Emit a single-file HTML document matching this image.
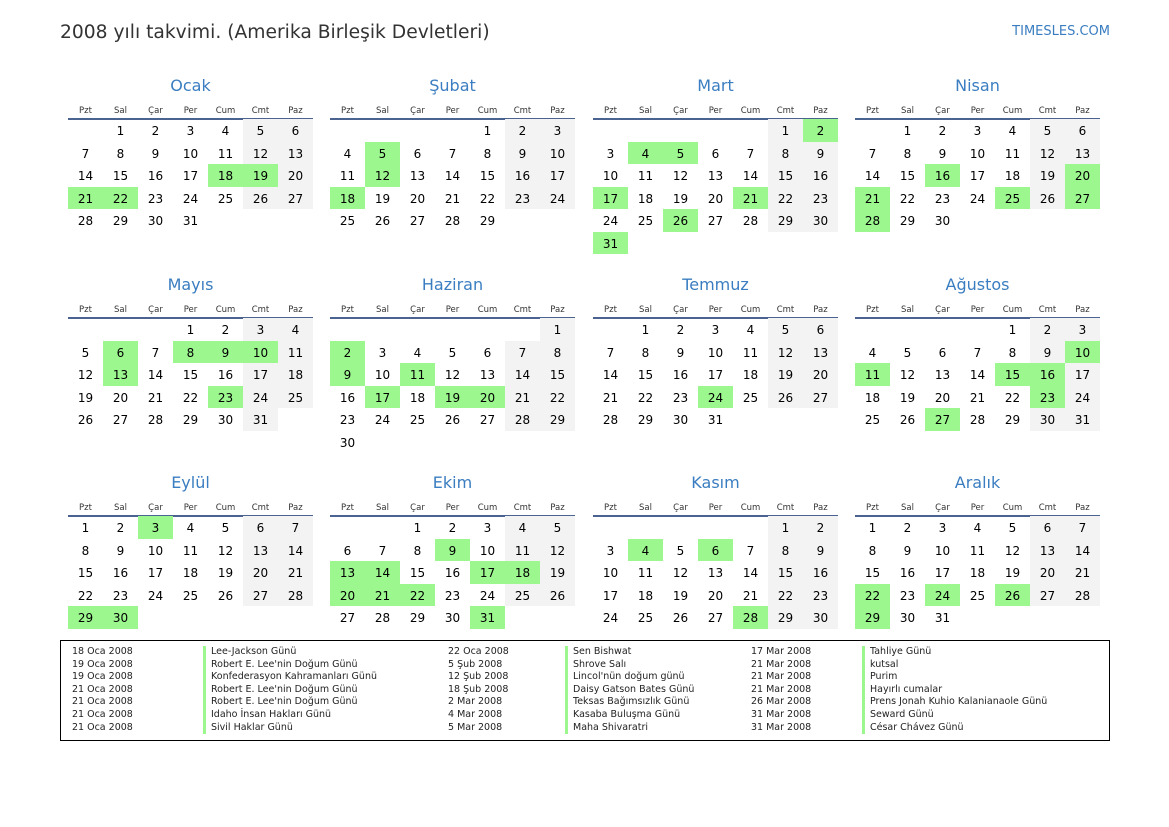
<!DOCTYPE html>
<html><head><meta charset="utf-8">
<style>
*{margin:0;padding:0;box-sizing:border-box}
body{width:1169px;height:827px;background:#fff;font-family:"DejaVu Sans","Liberation Sans",sans-serif;position:relative;overflow:hidden;color:#000}
.ttl{position:absolute;left:60px;top:22px;font-size:18.7px;color:#333}
.site{position:absolute;right:59px;top:24px;font-size:13px;color:#3a7dc0}
.m{position:absolute;width:245px}
.m h2{height:30px;line-height:30px;text-align:center;font-weight:normal;font-size:16px;color:#3a7dc0;position:relative;top:1px}
.hd{display:grid;grid-template-columns:repeat(7,35px);height:20px;line-height:23px;border-bottom:2px solid #4a6390;font-size:8.5px;color:#333;text-align:center}
.g{display:grid;grid-template-columns:repeat(7,35px);grid-auto-rows:22.5px;font-size:12px;text-align:center;line-height:25.5px;margin-top:-1px}
.g i{font-style:normal}
.w{background:#f3f3f3}
.h{background:#9cf78f}
.lg{position:absolute;left:60px;top:640px;width:1050px;height:101px;border:1px solid #000;font-size:9.5px;color:#222}
.c{position:absolute;top:5px;line-height:12.6px;white-space:nowrap}
.c.n div{border-left:3px solid #9cf78f;padding-left:5px}
</style></head><body>
<div class="ttl">2008 yılı takvimi. (Amerika Birleşik Devletleri)</div>
<div class="site">TIMESLES.COM</div>

<div class="m" style="left:68px;top:70px"><h2>Ocak</h2><div class="hd"><span>Pzt</span><span>Sal</span><span>Çar</span><span>Per</span><span>Cum</span><span>Cmt</span><span>Paz</span></div><div class="g">
<i></i><i>1</i><i>2</i><i>3</i><i>4</i><i class="w">5</i><i class="w">6</i>
<i>7</i><i>8</i><i>9</i><i>10</i><i>11</i><i class="w">12</i><i class="w">13</i>
<i>14</i><i>15</i><i>16</i><i>17</i><i class="h">18</i><i class="h">19</i><i class="w">20</i>
<i class="h">21</i><i class="h">22</i><i>23</i><i>24</i><i>25</i><i class="w">26</i><i class="w">27</i>
<i>28</i><i>29</i><i>30</i><i>31</i></div></div>

<div class="m" style="left:330px;top:70px"><h2>Şubat</h2><div class="hd"><span>Pzt</span><span>Sal</span><span>Çar</span><span>Per</span><span>Cum</span><span>Cmt</span><span>Paz</span></div><div class="g">
<i></i><i></i><i></i><i></i><i>1</i><i class="w">2</i><i class="w">3</i>
<i>4</i><i class="h">5</i><i>6</i><i>7</i><i>8</i><i class="w">9</i><i class="w">10</i>
<i>11</i><i class="h">12</i><i>13</i><i>14</i><i>15</i><i class="w">16</i><i class="w">17</i>
<i class="h">18</i><i>19</i><i>20</i><i>21</i><i>22</i><i class="w">23</i><i class="w">24</i>
<i>25</i><i>26</i><i>27</i><i>28</i><i>29</i></div></div>

<div class="m" style="left:593px;top:70px"><h2>Mart</h2><div class="hd"><span>Pzt</span><span>Sal</span><span>Çar</span><span>Per</span><span>Cum</span><span>Cmt</span><span>Paz</span></div><div class="g">
<i></i><i></i><i></i><i></i><i></i><i class="w">1</i><i class="h">2</i>
<i>3</i><i class="h">4</i><i class="h">5</i><i>6</i><i>7</i><i class="w">8</i><i class="w">9</i>
<i>10</i><i>11</i><i>12</i><i>13</i><i>14</i><i class="w">15</i><i class="w">16</i>
<i class="h">17</i><i>18</i><i>19</i><i>20</i><i class="h">21</i><i class="w">22</i><i class="w">23</i>
<i>24</i><i>25</i><i class="h">26</i><i>27</i><i>28</i><i class="w">29</i><i class="w">30</i>
<i class="h">31</i></div></div>

<div class="m" style="left:855px;top:70px"><h2>Nisan</h2><div class="hd"><span>Pzt</span><span>Sal</span><span>Çar</span><span>Per</span><span>Cum</span><span>Cmt</span><span>Paz</span></div><div class="g">
<i></i><i>1</i><i>2</i><i>3</i><i>4</i><i class="w">5</i><i class="w">6</i>
<i>7</i><i>8</i><i>9</i><i>10</i><i>11</i><i class="w">12</i><i class="w">13</i>
<i>14</i><i>15</i><i class="h">16</i><i>17</i><i>18</i><i class="w">19</i><i class="h">20</i>
<i class="h">21</i><i>22</i><i>23</i><i>24</i><i class="h">25</i><i class="w">26</i><i class="h">27</i>
<i class="h">28</i><i>29</i><i>30</i></div></div>

<div class="m" style="left:68px;top:269px"><h2>Mayıs</h2><div class="hd"><span>Pzt</span><span>Sal</span><span>Çar</span><span>Per</span><span>Cum</span><span>Cmt</span><span>Paz</span></div><div class="g">
<i></i><i></i><i></i><i>1</i><i>2</i><i class="w">3</i><i class="w">4</i>
<i>5</i><i class="h">6</i><i>7</i><i class="h">8</i><i class="h">9</i><i class="h">10</i><i class="w">11</i>
<i>12</i><i class="h">13</i><i>14</i><i>15</i><i>16</i><i class="w">17</i><i class="w">18</i>
<i>19</i><i>20</i><i>21</i><i>22</i><i class="h">23</i><i class="w">24</i><i class="w">25</i>
<i>26</i><i>27</i><i>28</i><i>29</i><i>30</i><i class="w">31</i></div></div>

<div class="m" style="left:330px;top:269px"><h2>Haziran</h2><div class="hd"><span>Pzt</span><span>Sal</span><span>Çar</span><span>Per</span><span>Cum</span><span>Cmt</span><span>Paz</span></div><div class="g">
<i></i><i></i><i></i><i></i><i></i><i></i><i class="w">1</i>
<i class="h">2</i><i>3</i><i>4</i><i>5</i><i>6</i><i class="w">7</i><i class="w">8</i>
<i class="h">9</i><i>10</i><i class="h">11</i><i>12</i><i>13</i><i class="w">14</i><i class="w">15</i>
<i>16</i><i class="h">17</i><i>18</i><i class="h">19</i><i class="h">20</i><i class="w">21</i><i class="w">22</i>
<i>23</i><i>24</i><i>25</i><i>26</i><i>27</i><i class="w">28</i><i class="w">29</i>
<i>30</i></div></div>

<div class="m" style="left:593px;top:269px"><h2>Temmuz</h2><div class="hd"><span>Pzt</span><span>Sal</span><span>Çar</span><span>Per</span><span>Cum</span><span>Cmt</span><span>Paz</span></div><div class="g">
<i></i><i>1</i><i>2</i><i>3</i><i>4</i><i class="w">5</i><i class="w">6</i>
<i>7</i><i>8</i><i>9</i><i>10</i><i>11</i><i class="w">12</i><i class="w">13</i>
<i>14</i><i>15</i><i>16</i><i>17</i><i>18</i><i class="w">19</i><i class="w">20</i>
<i>21</i><i>22</i><i>23</i><i class="h">24</i><i>25</i><i class="w">26</i><i class="w">27</i>
<i>28</i><i>29</i><i>30</i><i>31</i></div></div>

<div class="m" style="left:855px;top:269px"><h2>Ağustos</h2><div class="hd"><span>Pzt</span><span>Sal</span><span>Çar</span><span>Per</span><span>Cum</span><span>Cmt</span><span>Paz</span></div><div class="g">
<i></i><i></i><i></i><i></i><i>1</i><i class="w">2</i><i class="w">3</i>
<i>4</i><i>5</i><i>6</i><i>7</i><i>8</i><i class="w">9</i><i class="h">10</i>
<i class="h">11</i><i>12</i><i>13</i><i>14</i><i class="h">15</i><i class="h">16</i><i class="w">17</i>
<i>18</i><i>19</i><i>20</i><i>21</i><i>22</i><i class="h">23</i><i class="w">24</i>
<i>25</i><i>26</i><i class="h">27</i><i>28</i><i>29</i><i class="w">30</i><i class="w">31</i></div></div>

<div class="m" style="left:68px;top:467px"><h2>Eylül</h2><div class="hd"><span>Pzt</span><span>Sal</span><span>Çar</span><span>Per</span><span>Cum</span><span>Cmt</span><span>Paz</span></div><div class="g">
<i>1</i><i>2</i><i class="h">3</i><i>4</i><i>5</i><i class="w">6</i><i class="w">7</i>
<i>8</i><i>9</i><i>10</i><i>11</i><i>12</i><i class="w">13</i><i class="w">14</i>
<i>15</i><i>16</i><i>17</i><i>18</i><i>19</i><i class="w">20</i><i class="w">21</i>
<i>22</i><i>23</i><i>24</i><i>25</i><i>26</i><i class="w">27</i><i class="w">28</i>
<i class="h">29</i><i class="h">30</i></div></div>

<div class="m" style="left:330px;top:467px"><h2>Ekim</h2><div class="hd"><span>Pzt</span><span>Sal</span><span>Çar</span><span>Per</span><span>Cum</span><span>Cmt</span><span>Paz</span></div><div class="g">
<i></i><i></i><i>1</i><i>2</i><i>3</i><i class="w">4</i><i class="w">5</i>
<i>6</i><i>7</i><i>8</i><i class="h">9</i><i>10</i><i class="w">11</i><i class="w">12</i>
<i class="h">13</i><i class="h">14</i><i>15</i><i>16</i><i class="h">17</i><i class="h">18</i><i class="w">19</i>
<i class="h">20</i><i class="h">21</i><i class="h">22</i><i>23</i><i>24</i><i class="w">25</i><i class="w">26</i>
<i>27</i><i>28</i><i>29</i><i>30</i><i class="h">31</i></div></div>

<div class="m" style="left:593px;top:467px"><h2>Kasım</h2><div class="hd"><span>Pzt</span><span>Sal</span><span>Çar</span><span>Per</span><span>Cum</span><span>Cmt</span><span>Paz</span></div><div class="g">
<i></i><i></i><i></i><i></i><i></i><i class="w">1</i><i class="w">2</i>
<i>3</i><i class="h">4</i><i>5</i><i class="h">6</i><i>7</i><i class="w">8</i><i class="w">9</i>
<i>10</i><i>11</i><i>12</i><i>13</i><i>14</i><i class="w">15</i><i class="w">16</i>
<i>17</i><i>18</i><i>19</i><i>20</i><i>21</i><i class="w">22</i><i class="w">23</i>
<i>24</i><i>25</i><i>26</i><i>27</i><i class="h">28</i><i class="w">29</i><i class="w">30</i></div></div>

<div class="m" style="left:855px;top:467px"><h2>Aralık</h2><div class="hd"><span>Pzt</span><span>Sal</span><span>Çar</span><span>Per</span><span>Cum</span><span>Cmt</span><span>Paz</span></div><div class="g">
<i>1</i><i>2</i><i>3</i><i>4</i><i>5</i><i class="w">6</i><i class="w">7</i>
<i>8</i><i>9</i><i>10</i><i>11</i><i>12</i><i class="w">13</i><i class="w">14</i>
<i>15</i><i>16</i><i>17</i><i>18</i><i>19</i><i class="w">20</i><i class="w">21</i>
<i class="h">22</i><i>23</i><i class="h">24</i><i>25</i><i class="h">26</i><i class="w">27</i><i class="w">28</i>
<i class="h">29</i><i>30</i><i>31</i></div></div>

<div class="lg">
<div class="c" style="left:11px"><div>18 Oca 2008</div><div>19 Oca 2008</div><div>19 Oca 2008</div><div>21 Oca 2008</div><div>21 Oca 2008</div><div>21 Oca 2008</div><div>21 Oca 2008</div></div>
<div class="c n" style="left:142px"><div>Lee-Jackson Günü</div><div>Robert E. Lee'nin Doğum Günü</div><div>Konfederasyon Kahramanları Günü</div><div>Robert E. Lee'nin Doğum Günü</div><div>Robert E. Lee'nin Doğum Günü</div><div>Idaho İnsan Hakları Günü</div><div>Sivil Haklar Günü</div></div>
<div class="c" style="left:387px"><div>22 Oca 2008</div><div>5 Şub 2008</div><div>12 Şub 2008</div><div>18 Şub 2008</div><div>2 Mar 2008</div><div>4 Mar 2008</div><div>5 Mar 2008</div></div>
<div class="c n" style="left:504px"><div>Sen Bishwat</div><div>Shrove Salı</div><div>Lincol'nün doğum günü</div><div>Daisy Gatson Bates Günü</div><div>Teksas Bağımsızlık Günü</div><div>Kasaba Buluşma Günü</div><div>Maha Shivaratri</div></div>
<div class="c" style="left:690px"><div>17 Mar 2008</div><div>21 Mar 2008</div><div>21 Mar 2008</div><div>21 Mar 2008</div><div>26 Mar 2008</div><div>31 Mar 2008</div><div>31 Mar 2008</div></div>
<div class="c n" style="left:801px"><div>Tahliye Günü</div><div>kutsal</div><div>Purim</div><div>Hayırlı cumalar</div><div>Prens Jonah Kuhio Kalanianaole Günü</div><div>Seward Günü</div><div>César Chávez Günü</div></div>
</div>
</body></html>
